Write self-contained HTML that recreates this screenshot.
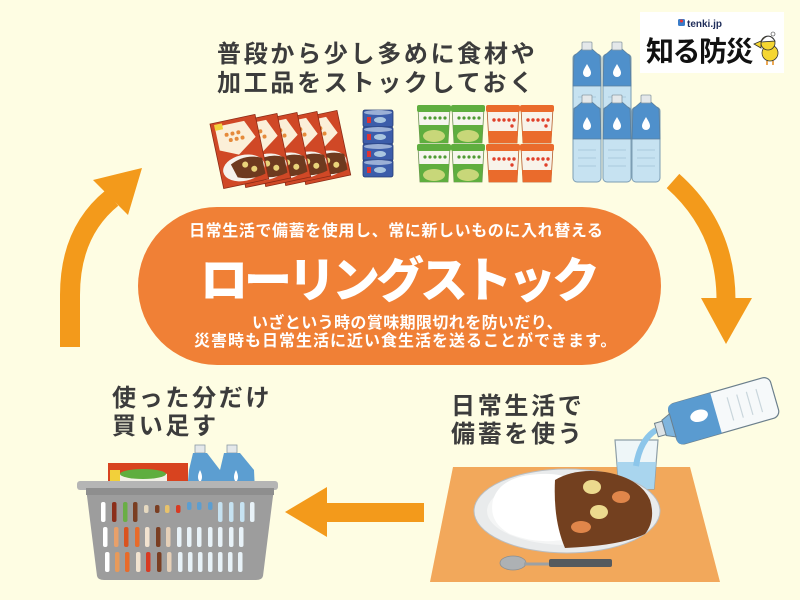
<!DOCTYPE html>
<html><head><meta charset="utf-8">
<style>
html,body{margin:0;padding:0;background:#FEFDE3;}
svg{display:block;}
.jp{font-family:"Liberation Sans","Noto Sans CJK JP",sans-serif;}
</style></head>
<body>
<svg width="800" height="600" viewBox="0 0 800 600" xmlns="http://www.w3.org/2000/svg">
<defs>
  <g id="bottle">
    <rect x="0" y="12" width="28" height="75" rx="4" fill="#C6E2F1" stroke="#7C9DB3" stroke-width="1"/>
    <path d="M9,7 L19,7 L27,14 L28,44 L0,44 L1,14 Z" fill="#4F90CB" stroke="#5B7F9C" stroke-width="0.8"/>
    <rect x="9" y="0" width="10" height="8" rx="1" fill="#E4E8EA" stroke="#8B9AA4" stroke-width="0.8"/>
    <path d="M14,22 C11,27 10,29 10,31 A4,4 0 0 0 18,31 C18,29 17,27 14,22Z" fill="#fff"/>
    <line x1="5" y1="55" x2="23" y2="55" stroke="#A9CADD" stroke-width="1"/>
    <line x1="5" y1="63" x2="23" y2="63" stroke="#A9CADD" stroke-width="1"/>
    <line x1="5" y1="71" x2="23" y2="71" stroke="#A9CADD" stroke-width="1"/>
  </g>
  <g id="gcup">
    <path d="M0,3 L32,3 L30,38 L2,38 Z" fill="#F6F6EE" stroke="#6E8F55" stroke-width="0.8"/>
    <rect x="-1" y="0" width="34" height="7" rx="2" fill="#5FAE3F"/>
    <path d="M1,20 L31,20 L30,38 L2,38 Z" fill="#5FAE3F"/>
    <ellipse cx="16" cy="31" rx="11" ry="6" fill="#C8D779"/>
    <g fill="#4E9B33"><circle cx="7" cy="13" r="1.6"/><circle cx="12" cy="13" r="1.6"/><circle cx="17" cy="13" r="1.6"/><circle cx="22" cy="13" r="1.6"/><circle cx="27" cy="13" r="1.6"/></g>
  </g>
  <g id="ocup">
    <path d="M0,3 L32,3 L30,38 L2,38 Z" fill="#F8F3EA" stroke="#B45A2A" stroke-width="0.8"/>
    <rect x="-1" y="0" width="34" height="7" rx="2" fill="#EA6B2C"/>
    <path d="M1,26 L31,26 L30,38 L2,38 Z" fill="#EA6B2C"/>
    <g fill="#E0402A"><circle cx="7" cy="15" r="1.7"/><circle cx="12" cy="15" r="1.7"/><circle cx="17" cy="15" r="1.7"/><circle cx="22" cy="15" r="1.7"/><circle cx="27" cy="15" r="1.7"/><circle cx="25" cy="21" r="1.7"/></g>
  </g>
  <g id="curry">
    <rect x="0" y="0" width="46" height="66" fill="#D04826" stroke="#8B2B16" stroke-width="0.8"/>
    <path d="M4,4 L34,4 L42,22 L22,36 L4,28 Z" fill="#FBEFD8"/>
    <g fill="#E58A3A"><circle cx="14" cy="14" r="2"/><circle cx="20" cy="14" r="2"/><circle cx="26" cy="14" r="2"/><circle cx="17" cy="20" r="2"/><circle cx="23" cy="20" r="2"/><circle cx="29" cy="20" r="2"/></g>
    <ellipse cx="24" cy="50" rx="21" ry="13" fill="#F5F2EC"/>
    <path d="M12,44 Q28,36 44,44 L44,60 Q30,64 16,58 Z" fill="#6E3A1F"/>
    <circle cx="26" cy="47" r="3" fill="#E9D37A"/><circle cx="34" cy="53" r="3" fill="#E9D37A"/>
  </g>
  <g id="can">
    <rect x="0" y="0" width="30" height="17" rx="2" fill="#3C5DAA" stroke="#253B74" stroke-width="0.8"/>
    <ellipse cx="15" cy="2.5" rx="14" ry="2.5" fill="#9BB0D6"/>
    <rect x="4" y="7" width="4" height="6" fill="#D33" />
    <ellipse cx="17" cy="10" rx="6" ry="3" fill="#A9C6E0"/>
  </g>
</defs>

<rect width="800" height="600" fill="#FEFDE3"/>

<!-- center pill -->
<rect x="138" y="207" width="523" height="158" rx="79" fill="#F08036"/>
<text class="jp" x="189" y="236" font-size="16" font-weight="700" fill="#fff" style="letter-spacing:0.6px">日常生活で備蓄を使用し、常に新しいものに入れ替える</text>
<text class="jp" x="200" y="297" font-size="48" font-weight="900" fill="#fff" style="letter-spacing:-4px">ローリングストック</text>
<text class="jp" x="252" y="328" font-size="16" font-weight="700" fill="#fff" style="letter-spacing:0.4px">いざという時の賞味期限切れを防いだり、</text>
<text class="jp" x="194" y="346" font-size="16" font-weight="700" fill="#fff" style="letter-spacing:1px">災害時も日常生活に近い食生活を送ることができます。</text>

<!-- arrows -->
<path d="M70,347 L70,295 Q70,232 112,198" stroke="#F39A1B" stroke-width="20" fill="none"/>
<polygon points="93,180 142,168 128,215" fill="#F39A1B"/>
<path d="M673,181 Q726,228 726,300" stroke="#F39A1B" stroke-width="19" fill="none"/>
<polygon points="701,298 752,298 726,344" fill="#F39A1B"/>
<rect x="325" y="503" width="99" height="19" fill="#F39A1B"/>
<polygon points="285,512 327,487 327,537" fill="#F39A1B"/>

<!-- top text -->
<text class="jp" x="217" y="62" font-size="24" font-weight="700" fill="#3C3C3C" style="letter-spacing:2.7px">普段から少し多めに食材や</text>
<text class="jp" x="217" y="91" font-size="24" font-weight="700" fill="#3C3C3C" style="letter-spacing:2.7px">加工品をストックしておく</text>

<!-- curry boxes -->
<g transform="translate(292,120) rotate(-12)"><use href="#curry"/></g>
<g transform="translate(272,121) rotate(-12)"><use href="#curry"/></g>
<g transform="translate(252,122) rotate(-12)"><use href="#curry"/></g>
<g transform="translate(232,123) rotate(-12)"><use href="#curry"/></g>
<g transform="translate(210,124) rotate(-12)"><use href="#curry"/></g>
<rect x="214" y="125" width="8" height="6" fill="#F2D03A" transform="rotate(-12 214 125)"/>

<!-- cans -->
<use href="#can" x="363" y="110"/>
<use href="#can" x="363" y="127"/>
<use href="#can" x="363" y="144"/>
<use href="#can" x="363" y="160"/>

<!-- cups -->
<use href="#gcup" x="418" y="105"/>
<use href="#gcup" x="452" y="105"/>
<use href="#gcup" x="418" y="144"/>
<use href="#gcup" x="452" y="144"/>
<use href="#ocup" x="487" y="105"/>
<use href="#ocup" x="521" y="105"/>
<use href="#ocup" x="487" y="144"/>
<use href="#ocup" x="521" y="144"/>

<!-- water bottles -->
<use href="#bottle" x="573" y="42"/>
<use href="#bottle" x="603" y="42"/>
<use href="#bottle" x="573" y="95"/>
<use href="#bottle" x="603" y="95"/>
<use href="#bottle" x="632" y="95"/>

<!-- logo -->
<rect x="640" y="12" width="144" height="61" fill="#FFFFFF"/>
<rect x="678" y="19" width="7" height="7" rx="1.5" fill="#3A7CC8"/>
<circle cx="681.5" cy="21" r="1.5" fill="#E33"/>
<text x="687" y="27" font-family="Liberation Sans, sans-serif" font-size="10" font-weight="700" fill="#1F2D5A">tenki.jp</text>
<text class="jp" x="646" y="61" font-size="28" font-weight="700" fill="#111" style="letter-spacing:-1.5px">知る防災</text>
<g>
  <ellipse cx="770" cy="53" rx="8" ry="8" fill="#F5D631" stroke="#333" stroke-width="0.8"/>
  <circle cx="768" cy="43" r="7" fill="#F5D631" stroke="#333" stroke-width="0.8"/>
  <path d="M761,42 Q768,31 775,41 Z" fill="#fff" stroke="#333" stroke-width="0.8"/>
  <circle cx="773" cy="34" r="2" fill="#fff" stroke="#333" stroke-width="0.6"/>
  <path d="M754,44 L761,41 L761,48 Z" fill="#F5D631" stroke="#333" stroke-width="0.8"/>
  <line x1="767" y1="61" x2="767" y2="65" stroke="#E58A1A" stroke-width="1.5"/>
  <line x1="773" y1="61" x2="773" y2="65" stroke="#E58A1A" stroke-width="1.5"/>
</g>

<!-- bottom-left text -->
<text class="jp" x="112" y="406" font-size="24" font-weight="700" fill="#3C3C3C" style="letter-spacing:2.7px">使った分だけ</text>
<text class="jp" x="112" y="434" font-size="24" font-weight="700" fill="#3C3C3C" style="letter-spacing:2.7px">買い足す</text>

<!-- basket items -->
<rect x="108" y="463" width="80" height="28" fill="#D8431F"/>
<rect x="110" y="470" width="10" height="12" fill="#F2D03A"/>
<path d="M120,474 Q143,466 167,474 L167,492 L120,492 Z" fill="#F2F0E6"/>
<ellipse cx="143" cy="474" rx="23" ry="5" fill="#5FAE3F"/>
<g>
  <rect x="195" y="445" width="10" height="8" fill="#E4E8EA" stroke="#8B9AA4" stroke-width="0.8"/>
  <path d="M193,453 L207,453 L220,470 L221,492 L187,492 L189,470 Z" fill="#5C9ED1"/>
  <rect x="227" y="445" width="10" height="8" fill="#E4E8EA" stroke="#8B9AA4" stroke-width="0.8"/>
  <path d="M224,453 L240,453 L254,470 L255,492 L218,492 L220,470 Z" fill="#5C9ED1"/>
  <path d="M200,470 Q196,478 200,482 Q204,478 200,470Z" fill="#fff"/>
  <path d="M236,470 Q232,478 236,482 Q240,478 236,470Z" fill="#fff"/>
</g>
<!-- basket -->
<path d="M86,488 L274,488 L263,576 Q262,580 256,580 L104,580 Q98,580 97,576 Z" fill="#9D9D9D"/>
<rect x="77" y="481" width="201" height="9" rx="3" fill="#B5B5B5"/>
<rect x="86" y="488" width="188" height="7" fill="#8E8E8E"/>
<g>
  <!-- row 1 -->
  <rect x="101" y="502" width="4.5" height="20" rx="2" fill="#fff"/>
  <rect x="112" y="502" width="4.5" height="20" rx="2" fill="#8B2E1A"/>
  <rect x="123" y="502" width="4.5" height="20" rx="2" fill="#6AAE45"/>
  <rect x="133" y="502" width="4.5" height="20" rx="2" fill="#7A3E22"/>
  <rect x="144" y="505" width="4.5" height="8" rx="2" fill="#E6D9C0"/>
  <rect x="155" y="505" width="4.5" height="8" rx="2" fill="#7A3E22"/>
  <rect x="165" y="505" width="4.5" height="8" rx="2" fill="#E8C26A"/>
  <rect x="176" y="505" width="4.5" height="8" rx="2" fill="#D83A22"/>
  <rect x="187" y="502" width="4.5" height="8" rx="2" fill="#5C9ED1"/>
  <rect x="197" y="502" width="4.5" height="8" rx="2" fill="#5C9ED1"/>
  <rect x="208" y="502" width="4.5" height="8" rx="2" fill="#5C9ED1"/>
  <rect x="218" y="502" width="4.5" height="20" rx="2" fill="#C6E2F1"/>
  <rect x="229" y="502" width="4.5" height="20" rx="2" fill="#C6E2F1"/>
  <rect x="240" y="502" width="4.5" height="20" rx="2" fill="#C6E2F1"/>
  <rect x="250" y="502" width="4.5" height="20" rx="2" fill="#E8F2F8"/>
  <!-- row 2 -->
  <rect x="103" y="527" width="4.5" height="20" rx="2" fill="#fff"/>
  <rect x="114" y="527" width="4.5" height="20" rx="2" fill="#E8A06A"/>
  <rect x="124" y="527" width="4.5" height="20" rx="2" fill="#D9531F"/>
  <rect x="135" y="527" width="4.5" height="20" rx="2" fill="#E86B2A"/>
  <rect x="145" y="527" width="4.5" height="20" rx="2" fill="#F2E3D0"/>
  <rect x="156" y="527" width="4.5" height="20" rx="2" fill="#7A3E22"/>
  <rect x="166" y="527" width="4.5" height="20" rx="2" fill="#E6D0B8"/>
  <rect x="177" y="527" width="4.5" height="20" rx="2" fill="#E8F2F8"/>
  <rect x="187" y="527" width="4.5" height="20" rx="2" fill="#E8F2F8"/>
  <rect x="197" y="527" width="4.5" height="20" rx="2" fill="#E8F2F8"/>
  <rect x="208" y="527" width="4.5" height="20" rx="2" fill="#E8F2F8"/>
  <rect x="218" y="527" width="4.5" height="20" rx="2" fill="#E8F2F8"/>
  <rect x="229" y="527" width="4.5" height="20" rx="2" fill="#E8F2F8"/>
  <rect x="239" y="527" width="4.5" height="20" rx="2" fill="#E8F2F8"/>
  <!-- row 3 -->
  <rect x="105" y="552" width="4.5" height="20" rx="2" fill="#fff"/>
  <rect x="115" y="552" width="4.5" height="20" rx="2" fill="#E89A5A"/>
  <rect x="125" y="552" width="4.5" height="20" rx="2" fill="#E86B2A"/>
  <rect x="136" y="552" width="4.5" height="20" rx="2" fill="#F2E3D0"/>
  <rect x="146" y="552" width="4.5" height="20" rx="2" fill="#D83A22"/>
  <rect x="157" y="552" width="4.5" height="20" rx="2" fill="#7A3E22"/>
  <rect x="167" y="552" width="4.5" height="20" rx="2" fill="#E6D0B8"/>
  <rect x="178" y="552" width="4.5" height="20" rx="2" fill="#E8F2F8"/>
  <rect x="188" y="552" width="4.5" height="20" rx="2" fill="#E8F2F8"/>
  <rect x="198" y="552" width="4.5" height="20" rx="2" fill="#E8F2F8"/>
  <rect x="208" y="552" width="4.5" height="20" rx="2" fill="#E8F2F8"/>
  <rect x="218" y="552" width="4.5" height="20" rx="2" fill="#E8F2F8"/>
  <rect x="228" y="552" width="4.5" height="20" rx="2" fill="#E8F2F8"/>
  <rect x="238" y="552" width="4.5" height="20" rx="2" fill="#E8F2F8"/>
</g>

<!-- bottom-right text -->
<text class="jp" x="451" y="414" font-size="24" font-weight="700" fill="#3C3C3C" style="letter-spacing:2.7px">日常生活で</text>
<text class="jp" x="451" y="442" font-size="24" font-weight="700" fill="#3C3C3C" style="letter-spacing:2.7px">備蓄を使う</text>

<!-- placemat -->
<polygon points="453,467 690,467 720,582 430,582" fill="#F2A85B"/>

<!-- glass -->
<path d="M615,440 L658,440 L654,489 L619,489 Z" fill="#EEF6F8" stroke="#8E9FA8" stroke-width="1.2"/>
<path d="M617,462 L656,462 L654,489 L619,489 Z" fill="#A9D5EE"/>
<!-- stream -->
<path d="M656,430 Q640,440 636,466" stroke="#8CC6EA" stroke-width="6" fill="none"/>

<!-- bottle tilted -->
<g transform="translate(716,413) rotate(-16)">
  <rect x="-45" y="-21" width="106" height="42" rx="7" fill="#F6F9FA" stroke="#6B7F8C" stroke-width="1.2"/>
  <path d="M-45,-16 Q-45,-21 -38,-21 L0,-21 L0,21 L-38,21 Q-45,21 -45,16 Z" fill="#5A9BD0"/>
  <path d="M-45,-12 L-54,-8 L-54,8 L-45,12 Z" fill="#7FB5DE" stroke="#6B7F8C" stroke-width="1"/>
  <rect x="-62" y="-7" width="8" height="14" fill="#DDE3E6" stroke="#6B7F8C" stroke-width="1"/>
  <ellipse cx="-17" cy="-2" rx="9" ry="6" fill="#fff"/>
  <g stroke="#C9D6DC" stroke-width="1.2"><line x1="15" y1="-12" x2="15" y2="12"/><line x1="25" y1="-12" x2="25" y2="12"/><line x1="35" y1="-12" x2="35" y2="12"/><line x1="45" y1="-12" x2="45" y2="12"/></g>
</g>

<!-- plate -->
<ellipse cx="567" cy="511" rx="93" ry="42" fill="#E9EBEC" stroke="#B9BDC0" stroke-width="1"/>
<ellipse cx="567" cy="511" rx="80" ry="34" fill="#F4F5F5"/>
<path d="M493,500 Q500,476 540,474 Q562,473 572,480 L572,538 Q540,546 510,534 Q488,522 493,500 Z" fill="#FFFFFF"/>
<path d="M555,480 Q575,468 605,472 Q640,478 650,500 Q656,520 645,534 Q620,546 565,548 Q553,520 555,480 Z" fill="#73401F"/>
<ellipse cx="592" cy="487" rx="9" ry="7" fill="#ECDA8E"/>
<ellipse cx="599" cy="512" rx="9" ry="7" fill="#ECDA8E"/>
<ellipse cx="621" cy="497" rx="9" ry="6" fill="#E0864A"/>
<ellipse cx="581" cy="527" rx="10" ry="6" fill="#E0864A"/>

<!-- spoon -->
<ellipse cx="513" cy="563" rx="13" ry="7" fill="#ADB1B4" stroke="#8A8F92" stroke-width="0.8"/>
<line x1="524" y1="564" x2="552" y2="564" stroke="#9CA1A4" stroke-width="3"/>
<rect x="549" y="559" width="63" height="8" rx="2" fill="#555A5E"/>
</svg>
</body></html>
